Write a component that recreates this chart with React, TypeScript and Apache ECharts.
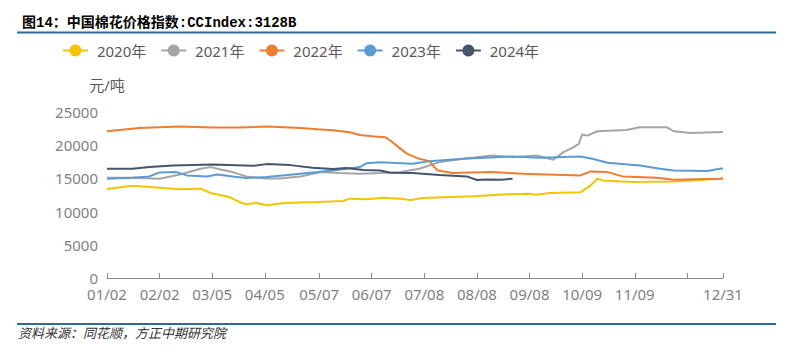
import React, { useEffect, useRef } from "react";
import * as echarts from "echarts";

// ---- data ----
const seriesNames = ["2020年", "2021年", "2022年", "2023年", "2024年"];
const seriesColors = ["#F5C400", "#A5A5A5", "#ED7D31", "#5B9BD5", "#44546A"];

// x tick labels (ticks at these dates; 12/10 has a tick but no label)
const tickDates = ["01/02", "02/02", "03/05", "04/05", "05/07", "06/07", "07/08", "08/08", "09/08", "10/09", "11/09", "12/10", "12/31"];
const labelDates = ["01/02", "02/02", "03/05", "04/05", "05/07", "06/07", "07/08", "08/08", "09/08", "10/09", "11/09", "12/31"];

const yTicks = [0, 5000, 10000, 15000, 20000, 25000];

const y2020: [string, number][] = [
  ["01/02", 13400], ["01/17", 13900], ["02/02", 13600], ["02/14", 13350], ["02/26", 13450],
  ["03/04", 12800], ["03/15", 12200], ["03/21", 11450], ["03/25", 11100], ["03/31", 11300],
  ["04/06", 10950], ["04/16", 11300], ["05/06", 11450], ["05/21", 11600], ["05/25", 11950],
  ["06/04", 11850], ["06/14", 12100], ["06/24", 11950], ["06/30", 11750], ["07/07", 12050],
  ["08/06", 12300], ["08/26", 12600], ["09/08", 12700], ["09/12", 12550], ["09/20", 12800],
  ["10/08", 12900], ["10/14", 13950], ["10/18", 14950], ["10/21", 14700], ["11/08", 14450],
  ["12/02", 14550], ["12/29", 14950], ["12/31", 15000],
];

const y2021: [string, number][] = [
  ["01/02", 15100], ["01/17", 15100], ["02/02", 14950], ["02/14", 15600], ["02/26", 16450],
  ["03/04", 16700], ["03/10", 16350], ["03/17", 15950], ["03/25", 15300], ["04/05", 15000],
  ["04/14", 15000], ["04/26", 15300], ["05/08", 15950], ["05/19", 15800], ["05/31", 15700],
  ["06/12", 15800], ["06/24", 15950], ["07/05", 16450], ["07/17", 17450], ["07/31", 17950],
  ["08/17", 18450], ["08/29", 18200], ["09/12", 18450], ["09/22", 17800], ["09/28", 18950],
  ["10/04", 19700], ["10/07", 20200], ["10/09", 21600], ["10/12", 21450], ["10/18", 22100],
  ["11/04", 22300], ["11/12", 22700], ["11/28", 22700], ["12/02", 22100], ["12/12", 21850],
  ["12/31", 22000],
];

const y2022: [string, number][] = [
  ["01/02", 22100], ["01/21", 22600], ["02/14", 22800], ["03/05", 22650], ["03/21", 22650],
  ["04/06", 22800], ["04/26", 22600], ["05/06", 22400], ["05/15", 22250], ["05/25", 21950],
  ["05/31", 21550], ["06/07", 21350], ["06/15", 21200], ["06/18", 20700], ["06/24", 19450],
  ["06/28", 18700], ["07/05", 17950], ["07/11", 17600], ["07/13", 16950], ["07/16", 16200],
  ["07/25", 15800], ["08/16", 15950], ["09/04", 15700], ["10/08", 15450], ["10/14", 16050],
  ["10/24", 15950], ["11/02", 15300], ["11/22", 15100], ["12/02", 14800], ["12/29", 14950],
  ["12/31", 15000],
];

const y2023: [string, number][] = [
  ["01/02", 14950], ["01/17", 15100], ["01/27", 15300], ["02/02", 15900], ["02/12", 15950],
  ["02/18", 15450], ["03/02", 15300], ["03/08", 15600], ["03/17", 15300], ["03/25", 15050],
  ["04/06", 15200], ["04/26", 15700], ["05/06", 15950], ["05/15", 16200], ["05/22", 16400],
  ["05/31", 16700], ["06/04", 17300], ["06/12", 17450], ["07/01", 17200], ["07/11", 17600],
  ["07/31", 17950], ["08/29", 18300], ["09/14", 18100], ["10/08", 18300], ["10/15", 17950],
  ["10/24", 17350], ["10/31", 17200], ["11/12", 16950], ["11/24", 16450], ["12/02", 16200],
  ["12/22", 16100], ["12/29", 16450], ["12/31", 16500],
];

const y2024: [string, number][] = [
  ["01/02", 16450], ["01/17", 16450], ["01/27", 16700], ["02/10", 16950], ["03/05", 17100],
  ["03/29", 16900], ["04/06", 17150], ["04/20", 17000], ["05/03", 16600], ["05/15", 16400],
  ["05/23", 16550], ["06/02", 16250], ["06/12", 16200], ["06/18", 15850], ["07/01", 15800],
  ["07/17", 15500], ["08/02", 15300], ["08/08", 14750], ["08/14", 14850], ["08/22", 14800],
  ["08/29", 14950],
];

const seriesData = [y2020, y2021, y2022, y2023, y2024];

// calendar categories (daily, 01/02 .. 12/31)
function buildDays(): string[] {
  const out: string[] = [];
  const d = new Date(2023, 0, 2);
  while (d.getFullYear() === 2023) {
    const mm = String(d.getMonth() + 1).padStart(2, "0");
    const dd = String(d.getDate()).padStart(2, "0");
    out.push(mm + "/" + dd);
    d.setDate(d.getDate() + 1);
  }
  return out;
}
const days = buildDays();

const FONT = '"Noto Sans", "Noto Sans CJK SC", sans-serif';

export default function App() {
  const ref = useRef<HTMLDivElement>(null);
  useEffect(() => {
    if (!ref.current) return;
    const chart = echarts.init(ref.current, null, { renderer: "svg" });
    chart.setOption({
      animation: false,
      backgroundColor: "#ffffff",
      title: {
        text: "图14：中国棉花价格指数:CCIndex:3128B",
        left: 17,
        top: 11,
        textStyle: {
          fontSize: 14,
          fontWeight: "bold",
          color: "#000",
          fontFamily: '"Liberation Mono", "Noto Sans CJK SC", monospace',
        },
      },
      graphic: [
        { type: "line", shape: { x1: 17, y1: 32.5, x2: 776, y2: 32.5 }, style: { stroke: "#2C6AA0", lineWidth: 2 } },
        { type: "line", shape: { x1: 17, y1: 324, x2: 776, y2: 324 }, style: { stroke: "#2C6AA0", lineWidth: 2 } },
        {
          type: "text",
          left: 18,
          top: 326,
          style: {
            text: "资料来源：同花顺，方正中期研究院",
            fontSize: 13,
            fontStyle: "italic",
            fill: "#333",
            fontFamily: '"Noto Sans CJK SC", sans-serif',
          },
        },
      ],
      legend: {
        data: seriesNames,
        left: 57,
        top: 38,
        itemWidth: 25,
        itemHeight: 15,
        itemGap: 14,
        formatter: (n: string) => " " + n,
        textStyle: { fontSize: 15, color: "#595959", fontFamily: FONT },
      },
      grid: { left: 107, right: 68, top: 112, bottom: 76, containLabel: false },
      xAxis: {
        type: "category",
        data: days,
        boundaryGap: false,
        axisLine: { lineStyle: { color: "#8C8C8C", width: 1 } },
        axisTick: {
          inside: true,
          length: 5,
          lineStyle: { color: "#8C8C8C" },
          interval: (_i: number, v: string) => tickDates.includes(v),
        },
        axisLabel: {
          interval: (_i: number, v: string) => labelDates.includes(v),
          fontSize: 15,
          lineHeight: 14,
          color: "#7F7F7F",
          fontFamily: FONT,
          margin: 9,
        },
        splitLine: { show: false },
      },
      yAxis: {
        type: "value",
        min: yTicks[0],
        max: yTicks[yTicks.length - 1],
        interval: yTicks[1] - yTicks[0],
        name: "元/吨",
        nameLocation: "end",
        nameGap: 20,
        nameTextStyle: { fontSize: 15, color: "#595959", fontFamily: FONT, align: "center" },
        axisLine: { show: false },
        axisTick: { show: false },
        splitLine: { show: false },
        axisLabel: {
          fontSize: 15,
          lineHeight: 12,
          color: "#7F7F7F",
          fontFamily: FONT,
          margin: 9,
          formatter: (v: number) => String(v),
        },
      },
      series: seriesNames.map((n, i) => ({
        name: n,
        type: "line",
        data: seriesData[i],
        showSymbol: true,
        symbol: "circle",
        symbolSize: 0,
        color: seriesColors[i],
        itemStyle: { color: seriesColors[i] },
        lineStyle: { width: 2, color: seriesColors[i] },
        smooth: false,
      })),
    });
    return () => chart.dispose();
  }, []);
  return <div ref={ref} style={{ width: 791, height: 354, position: "absolute", left: 0, top: 0 }} />;
}
